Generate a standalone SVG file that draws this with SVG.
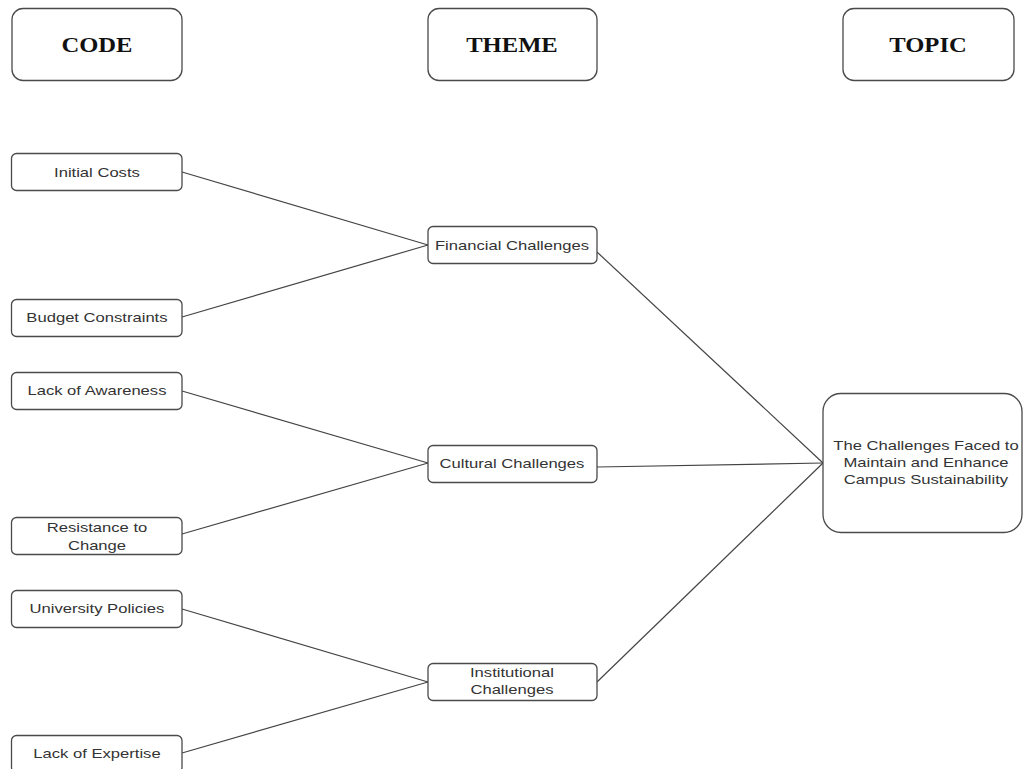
<svg xmlns="http://www.w3.org/2000/svg" width="1023" height="769" viewBox="0 0 1023 769">
<style>
.box{fill:#fff;stroke:#4a4a4a;stroke-width:1.3}
.t{font-family:"Liberation Sans",Arial,sans-serif;font-size:13.5px;fill:#333;text-anchor:middle;transform-box:fill-box;transform-origin:center;transform:scaleX(1.23)}
.h{font-family:"Liberation Serif","Times New Roman",serif;font-size:20px;font-weight:bold;fill:#111;text-anchor:middle;transform-box:fill-box;transform-origin:center;transform:scaleX(1.23)}
.edge{stroke:#444;stroke-width:1.2;fill:none}
</style>
<rect width="1023" height="769" fill="#fff"/>
<g id="connectors">
<line class="edge" x1="182" y1="172" x2="428" y2="245"/>
<line class="edge" x1="182" y1="317" x2="428" y2="245"/>
<line class="edge" x1="182" y1="391" x2="428" y2="463"/>
<line class="edge" x1="182" y1="534" x2="428" y2="463"/>
<line class="edge" x1="182" y1="609" x2="428" y2="682"/>
<line class="edge" x1="182" y1="753" x2="428" y2="682"/>
<line class="edge" x1="597" y1="252" x2="823" y2="463"/>
<line class="edge" x1="597" y1="467" x2="823" y2="463"/>
<line class="edge" x1="597" y1="682" x2="823" y2="463"/>
</g>
<g id="header-code"><rect class="box" x="12" y="8.5" width="170" height="72" rx="11"/><text class="h" x="97" y="52">CODE</text></g>
<g id="header-theme"><rect class="box" x="428" y="8.5" width="169" height="72" rx="11"/><text class="h" x="512" y="52">THEME</text></g>
<g id="header-topic"><rect class="box" x="843" y="8.5" width="171" height="72" rx="11"/><text class="h" x="928" y="52">TOPIC</text></g>
<g id="initial-costs"><rect class="box" x="11.5" y="153.5" width="170.5" height="37" rx="5"/><text class="t" x="97" y="177">Initial Costs</text></g>
<g id="budget-constraints"><rect class="box" x="11.5" y="299.5" width="170.5" height="37" rx="5"/><text class="t" x="97" y="322">Budget Constraints</text></g>
<g id="lack-awareness"><rect class="box" x="11.5" y="372.5" width="170.5" height="37" rx="5"/><text class="t" x="97" y="395">Lack of Awareness</text></g>
<g id="resistance-change"><rect class="box" x="11.5" y="517.5" width="170.5" height="37" rx="5"/><text class="t" x="97" y="532">Resistance to</text><text class="t" x="97" y="550">Change</text></g>
<g id="university-policies"><rect class="box" x="11.5" y="590.5" width="170.5" height="37" rx="5"/><text class="t" x="97" y="613">University Policies</text></g>
<g id="lack-expertise"><rect class="box" x="11.5" y="735.5" width="170.5" height="37" rx="5"/><text class="t" x="97" y="758">Lack of Expertise</text></g>
<g id="financial"><rect class="box" x="428" y="226.5" width="169" height="37" rx="5"/><text class="t" x="512" y="250">Financial Challenges</text></g>
<g id="cultural"><rect class="box" x="428" y="445.5" width="169" height="37" rx="5"/><text class="t" x="512" y="468">Cultural Challenges</text></g>
<g id="institutional"><rect class="box" x="428" y="663.5" width="169" height="37" rx="5"/><text class="t" x="512" y="677">Institutional</text><text class="t" x="512" y="694">Challenges</text></g>
<g id="topic"><rect class="box" x="823" y="393.5" width="199" height="139" rx="18"/><text class="t" x="926" y="450">The Challenges Faced to</text><text class="t" x="926" y="467">Maintain and Enhance</text><text class="t" x="926" y="484">Campus Sustainability</text></g>
</svg>
